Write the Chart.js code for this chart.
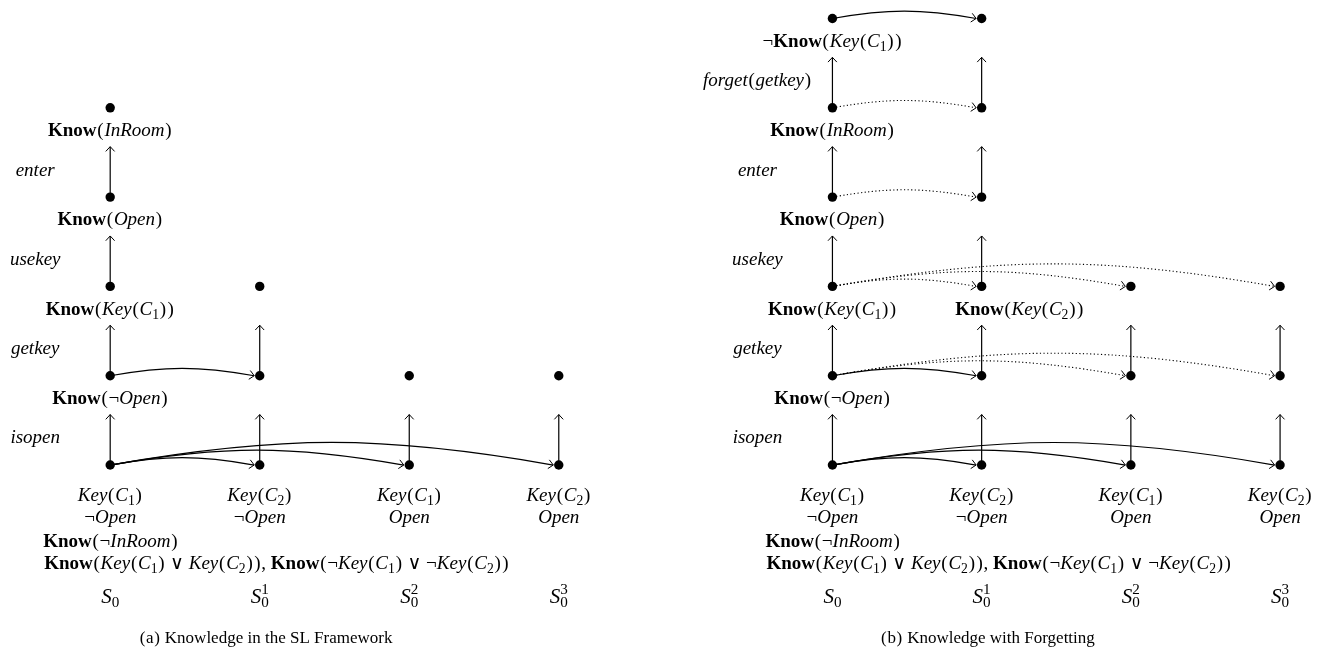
<!DOCTYPE html>
<html>
<head>
<meta charset="utf-8">
<title>Knowledge with and without forgetting</title>
<script src="https://cdn.jsdelivr.net/npm/chart.js@4.4.0/dist/chart.umd.min.js"></script>
<style>
  html, body { margin: 0; padding: 0; background: #fff; }
  #wrap { position: relative; width: 1337px; height: 658px; }
  .panel { position: absolute; top: 0; height: 658px; }
  #panelA { left: 0; width: 668px; }
  #panelB { left: 668px; width: 669px; }
</style>
</head>
<body>
<div id="wrap">
  <div class="panel" id="panelA"><canvas id="chartA"></canvas></div>
  <div class="panel" id="panelB"><canvas id="chartB"></canvas></div>
</div>
<script>
// markup: *bold*, /italic/, _x subscript, ^x superscript

// columns (initial situations)
const situations = ["/S/_0", "/S/^1_0", "/S/^2_0", "/S/^3_0"];
const keyFacts = ["/Key/(/C/_1)", "/Key/(/C/_2)", "/Key/(/C/_1)", "/Key/(/C/_2)"];
const openFacts = ["¬/Open/", "¬/Open/", "/Open/", "/Open/"];
const initialKnow = [
  "*Know*(¬/InRoom/)",
  "*Know*(/Key/(/C/_1) ∨ /Key/(/C/_2)), *Know*(¬/Key/(/C/_1) ∨ ¬/Key/(/C/_2))"
];

// (a) SL framework
const actionsA = ["/isopen/", "/getkey/", "/usekey/", "/enter/"];
const knowA = ["*Know*(¬/Open/)", "*Know*(/Key/(/C/_1))", "*Know*(/Open/)", "*Know*(/InRoom/)"];
const topLevelA = [4, 2, 1, 1];
const jumpLevelA = [0, 0, 0, 1];
const jumpTargetA = [1, 2, 3, 1];
const jumpDottedA = [false, false, false, false];

// (b) with forgetting
const actionsB = ["/isopen/", "/getkey/", "/usekey/", "/enter/", "/forget/(/getkey/)"];
const knowB = ["*Know*(¬/Open/)", "*Know*(/Key/(/C/_1))", "*Know*(/Open/)", "*Know*(/InRoom/)", "¬*Know*(/Key/(/C/_1))"];
const sideKnowB = ["*Know*(/Key/(/C/_2))"];
const sideKnowLevelB = [2];
const sideKnowColB = [1];
const topLevelB = [5, 5, 2, 2];
const jumpLevelB = [0, 0, 0, 1, 1, 1, 2, 2, 2, 3, 4, 5];
const jumpTargetB = [1, 2, 3, 1, 2, 3, 1, 2, 3, 1, 1, 1];
const jumpDottedB = [false, false, false, false, true, true, true, true, true, true, true, false];

const captions = ["(a) Knowledge in the SL Framework", "(b) Knowledge with Forgetting"];

const FONT = '"Liberation Serif", "DejaVu Serif", serif';
const TXT = 19;

function parseRich(s) {
  const segs = [];
  let b = false, i = false;
  for (let k = 0; k < s.length; k++) {
    const ch = s[k];
    if (ch === "*") { b = !b; continue; }
    if (ch === "/") { i = !i; continue; }
    if (ch === "_" || ch === "^") {
      segs.push({ t: s[k + 1], b: false, i: false, pos: ch === "_" ? "sub" : "sup" });
      k++;
      continue;
    }
    if (ch === "(" || ch === ")") {
      // math-style parens, a bit wider than the text ones
      segs.push({ t: ch, b: false, i: false, pos: null, pad: true });
      continue;
    }
    const last = segs[segs.length - 1];
    if (last && !last.pos && !last.pad && last.b === b && last.i === i) last.t += ch;
    else segs.push({ t: ch, b: b, i: i, pos: null });
  }
  return segs;
}

function fontFor(seg, size) {
  return (seg.i ? "italic " : "") + (seg.b ? "bold " : "") + size + "px " + FONT;
}

function layoutRich(ctx, str, size) {
  const items = [];
  let x = 0, supStart = null, supW = 0;
  parseRich(str).forEach((seg) => {
    const sz = seg.pos ? size * 0.72 : size;
    ctx.font = fontFor(seg, sz);
    let w = ctx.measureText(seg.t).width;
    let off = 0;
    if (seg.pad) { off = size * 0.04; w += size * 0.08; }
    const dy = seg.pos === "sub" ? size * 0.22 : seg.pos === "sup" ? -size * 0.4 : 0;
    if (seg.pos === "sub" && supStart !== null) {
      items.push({ seg, x: supStart, dy, sz });
      x = supStart + Math.max(w, supW);
      supStart = null;
    } else {
      items.push({ seg, x: x + off, dy, sz });
      if (seg.pos === "sup") { supStart = x; supW = w; } else supStart = null;
      x += w;
    }
  });
  return { items, width: x };
}

function drawRich(ctx, str, x, y, size, align) {
  const lay = layoutRich(ctx, str, size);
  const x0 = align === "center" ? x - lay.width / 2 : x;
  const base = y + size * 0.32;
  ctx.textAlign = "left";
  ctx.textBaseline = "alphabetic";
  ctx.fillStyle = "#000";
  lay.items.forEach((it) => {
    ctx.font = fontFor(it.seg, it.sz);
    ctx.fillText(it.seg.t, x0 + it.x, base + it.dy);
  });
}

function arrowHead(ctx, tx, ty, ang) {
  const len = 6.5, spread = 0.75;
  ctx.save();
  ctx.setLineDash([]);
  ctx.lineWidth = 1;
  ctx.beginPath();
  ctx.moveTo(tx - len * Math.cos(ang - spread), ty - len * Math.sin(ang - spread));
  ctx.lineTo(tx, ty);
  ctx.lineTo(tx - len * Math.cos(ang + spread), ty - len * Math.sin(ang + spread));
  ctx.stroke();
  ctx.restore();
}

function diagramPlugin(p) {
  return {
    id: "diagram" + p.name,
    beforeDatasetsDraw(chart) {
      const { ctx } = chart;
      const xs = chart.scales.x, ys = chart.scales.y;
      ctx.save();
      ctx.strokeStyle = "#000";
      ctx.lineWidth = 1.2;
      // action arrows (one situation to its successor)
      p.tops.forEach((top, c) => {
        const px = xs.getPixelForValue(c);
        for (let l = 0; l < top; l++) {
          const y0 = ys.getPixelForValue(l), y1 = ys.getPixelForValue(l + 1);
          const tip = y0 + 0.565 * (y1 - y0);
          ctx.beginPath();
          ctx.moveTo(px, y0);
          ctx.lineTo(px, tip);
          ctx.stroke();
          arrowHead(ctx, px, tip, -Math.PI / 2);
        }
      });
      // epistemic accessibility arcs
      const theta = 10 * Math.PI / 180;
      p.jumpLevels.forEach((l, k) => {
        const yy = ys.getPixelForValue(l);
        const x0 = xs.getPixelForValue(0);
        const x1 = xs.getPixelForValue(p.jumpTargets[k]) - 5.5;
        const a = 0.3915 * (x1 - x0);
        const c1x = x0 + a * Math.cos(theta), c1y = yy - a * Math.sin(theta);
        const c2x = x1 - a * Math.cos(theta), c2y = yy - a * Math.sin(theta);
        ctx.setLineDash(p.jumpDotted[k] ? [1.2, 2.4] : []);
        ctx.lineWidth = p.jumpDotted[k] ? 1.1 : 1.2;
        ctx.beginPath();
        ctx.moveTo(x0, yy);
        ctx.bezierCurveTo(c1x, c1y, c2x, c2y, x1, yy);
        ctx.stroke();
        arrowHead(ctx, x1, yy, Math.atan2(yy - c2y, x1 - c2x));
      });
      ctx.restore();
    },
    afterDatasetsDraw(chart) {
      const { ctx } = chart;
      const xs = chart.scales.x, ys = chart.scales.y;
      const c0 = xs.getPixelForValue(0);
      const base = ys.getPixelForValue(0);
      ctx.save();
      p.actions.forEach((s, l) => {
        const mid = (ys.getPixelForValue(l) + ys.getPixelForValue(l + 1)) / 2;
        drawRich(ctx, s, c0 - 75, mid + 17, TXT, "center");
      });
      p.know.forEach((s, l) => {
        drawRich(ctx, s, c0, ys.getPixelForValue(l + 1) + 22, TXT, "center");
      });
      p.sideKnow.forEach((s, k) => {
        drawRich(ctx, s, xs.getPixelForValue(p.sideKnowCol[k]) + 38, ys.getPixelForValue(p.sideKnowLevel[k]) + 22, TXT, "center");
      });
      situations.forEach((s, c) => {
        const px = xs.getPixelForValue(c);
        drawRich(ctx, keyFacts[c], px, base + 30, TXT, "center");
        drawRich(ctx, openFacts[c], px, base + 52, TXT, "center");
        drawRich(ctx, s, px, base + 131, 21, "center");
      });
      drawRich(ctx, initialKnow[0], c0 - 67, base + 76, TXT, "left");
      drawRich(ctx, initialKnow[1], c0 - 66, base + 98, TXT, "left");
      drawRich(ctx, p.caption, xs.getPixelForValue(1.04), base + 173, 17, "center");
      ctx.restore();
    }
  };
}

function makePanel(canvasId, p) {
  const pts = [];
  p.tops.forEach((top, c) => {
    for (let l = 0; l <= top; l++) pts.push({ x: c, y: l });
  });
  return new Chart(document.getElementById(canvasId), {
    type: "scatter",
    data: {
      datasets: [{
        data: pts,
        pointRadius: 4.7,
        pointHoverRadius: 4.7,
        backgroundColor: "#000",
        borderColor: "#000",
        borderWidth: 0,
        clip: false
      }]
    },
    options: {
      responsive: true,
      maintainAspectRatio: false,
      animation: false,
      events: [],
      layout: { padding: 0 },
      plugins: { legend: { display: false }, tooltip: { enabled: false } },
      scales: {
        x: { type: "linear", display: false, min: p.xMin, max: p.xMax },
        y: { type: "linear", display: false, min: -2.108, max: 5.1545 }
      }
    },
    plugins: [diagramPlugin(p)]
  });
}

makePanel("chartA", {
  name: "A", xMin: -0.7055, xMax: 3.699,
  tops: topLevelA, actions: actionsA, know: knowA,
  sideKnow: [], sideKnowLevel: [], sideKnowCol: [],
  jumpLevels: jumpLevelA, jumpTargets: jumpTargetA, jumpDotted: jumpDottedA,
  caption: captions[0]
});

makePanel("chartB", {
  name: "B", xMin: -1.0705, xMax: 3.350,
  tops: topLevelB, actions: actionsB, know: knowB,
  sideKnow: sideKnowB, sideKnowLevel: sideKnowLevelB, sideKnowCol: sideKnowColB,
  jumpLevels: jumpLevelB, jumpTargets: jumpTargetB, jumpDotted: jumpDottedB,
  caption: captions[1]
});
</script>
</body>
</html>
